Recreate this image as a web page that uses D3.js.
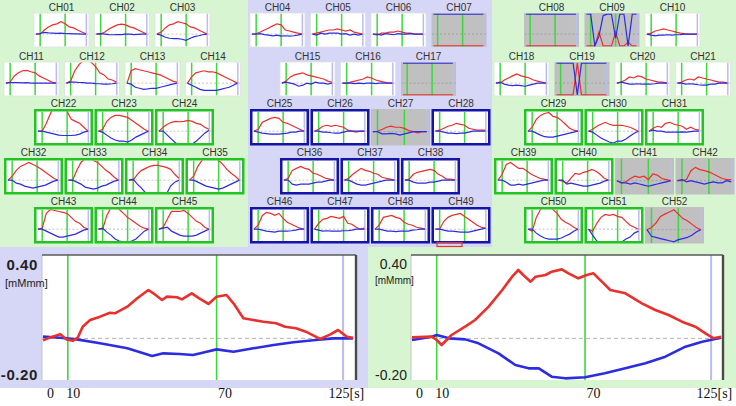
<!DOCTYPE html>
<html>
<head>
<meta charset="utf-8">
<script src="https://cdn.jsdelivr.net/npm/d3@7"></script>
<style>
  body { margin: 0; background: #fff; }
  svg { display: block; }
</style>
</head>
<body>
<div id="chart"></div>
<script>
// ---- data ----
const tSmall = [0, 10, 20, 30, 40, 50, 60, 70, 80, 90, 100, 110, 120];

// oxy-Hb (red) per channel CH01..CH52
const oxyHb = [
  [0,0,.02,.035,.045,.05,.06,.05,.035,.03,.02,.01,.002],
  [0,0,.01,.025,.035,.045,.048,.045,.035,.03,.02,.01,.002],
  [0,.01,.03,.045,.05,.06,.055,.05,.035,.03,.02,.01,0],
  [0,.002,.01,.02,.03,.04,.05,.045,.02,.015,.01,.005,0],
  [0,.005,.01,.015,.02,.02,.025,.02,.015,.02,.01,.005,0],
  [0,-.005,.005,.005,.01,.01,.015,.01,.005,.005,0,0,0],
  [-.057,-.057,-.057,-.057,-.057,-.057,-.057,-.057,-.057,-.057,-.057,-.057,-.057],
  [-.057,-.057,-.057,-.057,-.057,-.057,-.057,-.057,-.057,-.057,-.057,-.057,-.057],
  [-.057,-.057,-.057,.01,-.057,-.057,-.057,.01,-.057,-.057,-.04,-.057,-.057],
  [0,.005,.015,.02,.025,.02,.015,.01,.005,.002,0,0,0],
  [0,.005,.035,.05,.06,.062,.055,.05,.035,.025,.015,.005,0],
  [0,.01,.06,.09,.11,.11,.1,.08,.05,.04,.02,.015,.005],
  [0,.06,.07,.065,.06,.055,.05,.045,.04,.03,.02,.01,.005],
  [0,.03,.05,.055,.06,.055,.055,.05,.04,.03,.02,.01,0],
  [0,.01,.03,.04,.045,.05,.04,.035,.03,.025,.02,.01,.005],
  [0,0,.005,.01,.015,.02,.03,.025,.015,.01,.005,0,0],
  [-.057,-.057,-.057,-.057,-.057,-.057,-.057,-.057,-.057,-.057,-.057,-.057,-.057],
  [0,0,.015,.025,.035,.045,.035,.03,.025,.015,.01,.005,0],
  [-.057,-.057,-.057,-.057,-.057,.097,-.057,-.057,-.057,-.057,-.057,-.057,-.057],
  [0,.005,.015,.03,.025,.035,.03,.02,.015,.01,.005,.005,0],
  [0,.005,.015,.02,.015,.03,.025,.02,.015,.01,.005,.005,0],
  [0,0,.04,.09,.13,.13,.13,.1,.06,.05,.04,.02,0],
  [0,.01,.05,.07,.08,.08,.075,.07,.055,.04,.025,.01,0],
  [0,.02,.035,.045,.05,.048,.05,.055,.05,.04,.035,.02,.01],
  [0,.01,.045,.055,.065,.07,.065,.045,.04,.03,.02,.01,0],
  [0,.01,.025,.03,.025,.03,.025,.02,.005,0,-.005,0,0],
  [0,.002,.01,.02,.025,.02,.02,.015,.005,0,-.005,0,0],
  [0,.005,.015,.025,.03,.04,.035,.03,.015,.01,.005,.005,.005],
  [0,.02,.06,.08,.09,.095,.075,.07,.055,.035,.015,.005,0],
  [0,.01,.025,.035,.045,.035,.03,.03,.03,.025,.02,.01,0],
  [0,.015,.025,.02,.04,.045,.035,.03,.025,.01,.02,.01,.005],
  [0,.02,.05,.07,.08,.09,.08,.07,.055,.04,.025,.01,0],
  [0,0,.05,.09,.11,.12,.1,.09,.07,.05,.035,.015,0],
  [0,0,.03,.05,.06,.07,.075,.075,.07,.065,.055,.03,.01],
  [0,.02,.07,.1,.12,.13,.12,.1,.08,.055,.035,.02,0],
  [0,.01,.05,.06,.07,.06,.055,.035,.03,.02,.01,.005,0],
  [0,.01,.03,.045,.06,.05,.045,.035,.03,.015,.01,.005,0],
  [0,.005,.03,.04,.045,.05,.055,.05,.03,.02,.005,.005,0],
  [0,.03,.08,.09,.075,.06,.06,.045,.03,.02,.01,.005,0],
  [0,-.005,-.015,.01,.035,.03,.04,.045,.055,.045,.03,.01,0],
  [0,-.01,-.005,.01,.02,.015,.02,.005,.03,.025,.01,.005,0],
  [0,0,.005,.045,.06,.05,.045,.04,.03,.02,.01,.005,.005],
  [0,.005,.08,.1,.095,.09,.085,.08,.06,.04,.03,.01,0],
  [0,0,.07,.11,.12,.1,.08,.06,.045,.03,.015,.005,0],
  [0,.01,.05,.09,.09,.09,.095,.08,.06,.04,.03,.01,0],
  [0,.02,.07,.085,.08,.07,.08,.055,.035,.025,.015,.005,0],
  [0,.03,.05,.055,.065,.06,.055,.065,.03,.025,.01,0,.005],
  [0,.02,.06,.065,.07,.06,.055,.035,.025,.02,.01,.005,0],
  [0,0,.04,.06,.07,.075,.08,.065,.05,.035,.02,.01,.005],
  [0,-.01,.06,.1,.12,.12,.1,.08,.05,.035,.025,.01,0],
  [0,-.01,.03,.06,.075,.07,.075,.065,.06,.04,.02,.01,0],
  [0,.01,.03,.06,.07,.08,.09,.07,.05,.04,.025,.01,0]
];

// deoxy-Hb (blue) per channel CH01..CH52
const deoxyHb = [
  [0,.003,.008,.006,.005,.004,.005,.003,.002,.001,.001,0,0],
  [0,.002,0,-.002,-.003,-.002,-.002,0,0,-.002,-.001,0,0],
  [0,-.005,-.015,-.02,-.022,-.022,-.025,-.03,-.02,-.012,-.008,-.003,0],
  [0,0,.002,-.002,-.005,-.008,-.005,-.01,-.008,-.01,-.008,-.005,0],
  [0,-.005,.005,0,.005,.005,.005,0,.002,-.005,0,-.005,0],
  [0,0,-.005,.002,0,-.003,.002,0,0,.002,0,0,0],
  [.097,.097,.097,.097,.097,.097,.097,.097,.097,.097,.097,.097,.097],
  [.097,.097,.097,.097,.097,.097,.097,.097,.097,.097,.097,.097,.097],
  [.097,.097,-.057,-.01,.09,.097,.097,-.02,.097,.097,-.057,.097,.097],
  [0,-.005,-.008,-.005,-.005,-.003,-.005,-.003,-.002,0,0,0,0],
  [0,.002,.003,.002,.001,.002,0,0,0,0,0,0,0],
  [0,.005,.005,.003,.002,0,0,-.002,-.003,-.005,-.005,-.003,0],
  [0,-.005,-.02,-.025,-.03,-.028,-.025,-.025,-.02,-.015,-.01,-.005,0],
  [0,-.01,-.02,-.03,-.035,-.035,-.035,-.035,-.03,-.025,-.02,-.01,0],
  [0,.005,0,-.005,-.015,-.01,0,-.005,.005,0,0,-.005,0],
  [0,0,0,-.002,0,-.002,0,0,-.002,0,0,0,0],
  [.097,.097,.097,.097,.097,.097,.097,.097,.097,.097,.097,.097,.097],
  [0,.005,-.005,-.01,-.012,-.01,-.012,-.015,-.01,-.005,0,0,0],
  [.097,.097,.097,.097,.097,-.057,.097,.097,.097,.097,.097,.097,.097],
  [0,.005,0,-.005,-.005,-.003,-.005,-.005,-.005,-.003,0,0,0],
  [0,0,-.005,-.003,-.005,-.008,-.01,-.01,-.005,-.005,0,0,0],
  [0,0,-.005,-.01,-.015,-.02,-.022,-.022,-.022,-.02,-.015,-.005,0],
  [0,-.005,-.02,-.035,-.045,-.05,-.05,-.055,-.045,-.03,-.02,-.01,0],
  [0,0,-.02,-.04,-.06,-.065,-.065,-.07,-.065,-.05,-.03,-.01,.005],
  [0,-.005,-.01,-.012,-.015,-.015,-.015,-.012,-.01,-.005,-.005,0,0],
  [0,0,-.005,-.005,-.008,-.01,-.01,-.005,0,0,0,0,0],
  [0,0,-.01,-.01,-.008,-.01,-.015,-.01,-.005,0,0,0,0],
  [0,0,-.005,-.01,-.01,-.012,-.01,-.01,-.005,0,0,0,0],
  [0,0,-.01,-.02,-.028,-.03,-.03,-.025,-.02,-.015,-.01,-.005,0],
  [0,-.005,-.02,-.035,-.045,-.055,-.06,-.05,-.05,-.04,-.025,-.01,0],
  [0,.005,0,0,-.005,-.005,-.005,-.005,-.003,-.005,-.002,0,0],
  [0,0,-.015,-.02,-.03,-.035,-.04,-.035,-.03,-.025,-.015,-.005,0],
  [0,0,-.01,-.02,-.035,-.04,-.045,-.04,-.03,-.025,-.015,-.005,0],
  [0,.005,-.02,-.04,-.065,-.07,-.07,-.07,-.07,-.07,-.03,-.01,0],
  [0,0,-.01,-.02,-.03,-.035,-.04,-.045,-.04,-.03,-.02,-.01,0],
  [0,0,-.02,-.025,-.02,-.02,-.02,-.015,-.01,-.01,-.005,0,0],
  [0,0,-.01,-.02,-.025,-.025,-.02,-.015,-.01,-.005,0,0,0],
  [0,0,-.01,-.015,-.015,-.015,-.01,-.01,-.005,0,0,0,0],
  [0,0,-.01,-.025,-.025,-.02,-.025,-.02,-.015,-.01,-.005,0,0],
  [0,0,-.02,-.015,-.02,-.025,-.03,-.03,-.025,-.02,-.015,-.005,0],
  [0,-.01,-.01,-.015,-.01,-.015,-.02,-.025,-.02,-.015,-.01,-.005,0],
  [0,.005,-.005,0,-.005,-.01,-.015,-.01,-.005,-.01,-.01,0,-.005],
  [0,0,-.01,-.02,-.03,-.04,-.04,-.035,-.03,-.025,-.015,-.005,0],
  [0,.005,-.015,-.03,-.05,-.06,-.065,-.065,-.06,-.05,-.03,-.01,0],
  [0,.005,.01,-.01,-.02,-.03,-.035,-.035,-.035,-.03,-.02,-.01,0],
  [0,0,-.005,-.01,-.012,-.015,-.01,-.01,-.01,-.008,-.005,0,0],
  [0,-.005,-.01,-.008,-.01,-.01,-.01,-.008,-.008,-.005,0,0,0],
  [0,0,-.005,-.01,-.01,-.012,-.01,-.01,-.01,-.005,-.003,0,0],
  [0,0,-.005,-.01,-.01,-.012,-.015,-.015,-.015,-.01,-.005,0,.005],
  [0,0,-.02,-.035,-.045,-.05,-.05,-.05,-.045,-.035,-.025,-.01,0],
  [0,-.03,-.06,-.07,-.07,-.07,-.07,-.07,-.065,-.05,-.04,-.02,-.01],
  [0,-.03,-.035,-.04,-.045,-.05,-.055,-.045,-.04,-.035,-.025,-.01,0]
];

const disabledCh = [7, 8, 9, 17, 19, 27, 41, 42, 52];
const markTimes = [10, 70];
const endMark = 121;

// channel order in each row: [left block, middle block, right block]
const rowChannels = [
  [[1, 2, 3], [4, 5, 6, 7], [8, 9, 10]],
  [[11, 12, 13, 14], [15, 16, 17], [18, 19, 20, 21]],
  [[22, 23, 24], [25, 26, 27, 28], [29, 30, 31]],
  [[32, 33, 34, 35], [36, 37, 38], [39, 40, 41, 42]],
  [[43, 44, 45], [46, 47, 48, 49], [50, 51, 52]]
];

// large averaged plots
const leftOxyT = [0,2,7,9.5,12,14,16,19,23,27,29,34,38,42.5,44.5,48,50,54,56,60,63,66.7,70,74,76.8,80.8,84.8,88.9,94,97.6,102,106,111.7,115.7,119,122.5,125];
const leftOxy = [-0.01,0,0.02,-0.005,-0.012,0.003,0.056,0.088,0.104,0.123,0.12,0.152,0.192,0.232,0.216,0.184,0.2,0.197,0.187,0.216,0.192,0.165,0.2,0.208,0.168,0.096,0.088,0.08,0.072,0.056,0.048,0.032,-0.003,0.018,0.04,0.008,0.003];
const leftDeoxyT = [0,6.9,13.6,23,34,44,48.5,55,60.5,66,70,76.8,84.8,93,101,110,117,125];
const leftDeoxy = [0.008,0.003,-0.005,-0.024,-0.048,-0.085,-0.072,-0.075,-0.08,-0.064,-0.053,-0.064,-0.048,-0.032,-0.019,-0.008,0,0];

const rightOxyT = [0,8,10,12,14,16,21.5,25.5,31,36.5,40.5,43,45,48,50,54,56.5,60.6,63.3,67.3,70.7,73.4,76.8,80.2,86.3,93,98.4,103.8,109.2,114.6,118.7,122,125];
const rightOxy = [0.005,0.008,-0.008,-0.032,-0.008,0.016,0.056,0.088,0.152,0.232,0.296,0.328,0.304,0.272,0.296,0.304,0.32,0.331,0.312,0.288,0.304,0.312,0.272,0.232,0.216,0.168,0.136,0.112,0.08,0.056,0.024,0,0.008];
const rightDeoxyT = [0,8,10,15,21.5,26.9,35,41.8,47.2,51.3,56.5,62,70,78,86.3,94.4,102.5,110.6,117.4,125];
const rightDeoxy = [-0.008,0.008,0.016,0,-0.005,-0.024,-0.072,-0.128,-0.144,-0.144,-0.184,-0.192,-0.187,-0.168,-0.144,-0.12,-0.088,-0.04,-0.016,0.003];

const xTickVals = [0, 10, 70, 125];
const xTickLabels = ["0", "10", "70", "125[s]"];
const yTickVals = [0.4, -0.2];
const yTickLabels = ["0.40", "-0.20"];
const unitLabel = "[mMmm]";

// ---- drawing ----
const W = 736, H = 406;
const GREEN = "#d6f5d0", LAV = "#d6d6f6";
const RED = "#e8302c", BLUE = "#2c2ce0", MARK = "#3cd83c", PURP = "#bcbcf0";
const SANS = "'Liberation Sans', Arial, sans-serif";
const SERIF = "'Liberation Serif', 'Times New Roman', serif";

const svg = d3.select("#chart").append("svg")
    .attr("width", W)
    .attr("height", H);

svg.append("rect").attr("x", 0).attr("y", 0).attr("width", 248).attr("height", 247).attr("fill", GREEN);
svg.append("rect").attr("x", 248).attr("y", 0).attr("width", 244).attr("height", 247).attr("fill", LAV);
svg.append("rect").attr("x", 492).attr("y", 0).attr("width", 244).attr("height", 247).attr("fill", GREEN);
svg.append("rect").attr("x", 0).attr("y", 247).attr("width", 368).attr("height", 141).attr("fill", LAV);
svg.append("rect").attr("x", 368).attr("y", 247).attr("width", 368).attr("height", 141).attr("fill", GREEN);

const defs = svg.append("defs");

function smallPanel(ch, x, y, w, h, frame) {
    const i = ch - 1;
    const off = disabledCh.includes(ch);
    const framed = frame && !off;
    const pad = framed ? 2.5 : 0.5;
    const g = svg.append("g");

    if (framed) {
        g.append("rect")
            .attr("x", x + 1.25).attr("y", y + 1.25)
            .attr("width", w - 2.5).attr("height", h - 2.5)
            .attr("fill", "#fff")
            .attr("stroke", frame)
            .attr("stroke-width", 2.5);
    } else {
        g.append("rect")
            .attr("x", x).attr("y", y)
            .attr("width", w).attr("height", h)
            .attr("fill", off ? "#c0c0c0" : "#fff")
            .attr("stroke", off ? "none" : "#e2e2e2")
            .attr("stroke-width", 0.8);
    }

    const x0 = x + pad, x1 = x + w - pad, y0 = y + pad, y1 = y + h - pad;
    const id = "clip" + ch;
    defs.append("clipPath").attr("id", id)
        .append("rect").attr("x", x0).attr("y", y0).attr("width", x1 - x0).attr("height", y1 - y0);

    const xs = d3.scaleLinear().domain([0, 125]).range([x0 + 1.5, x1 - 0.5]);
    const ys = d3.scaleLinear().domain([-0.06, 0.1]).range([y1, y0]);
    const inner = g.append("g").attr("clip-path", `url(#${id})`);

    inner.append("line")
        .attr("x1", x0).attr("x2", x1)
        .attr("y1", ys(0)).attr("y2", ys(0))
        .attr("stroke", off ? "#999" : "#b8b8b8")
        .attr("stroke-width", 0.8)
        .attr("stroke-dasharray", "2,2");

    markTimes.forEach(t => {
        inner.append("line")
            .attr("x1", xs(t)).attr("x2", xs(t))
            .attr("y1", y0).attr("y2", y1)
            .attr("stroke", MARK).attr("stroke-width", 1.5);
    });
    inner.append("line")
        .attr("x1", xs(endMark)).attr("x2", xs(endMark))
        .attr("y1", y0).attr("y2", y1)
        .attr("stroke", PURP).attr("stroke-width", 1.5);

    const line = d3.line().x((d, k) => xs(tSmall[k])).y(d => ys(d));
    inner.append("path").attr("d", line(oxyHb[i]))
        .attr("fill", "none").attr("stroke", RED).attr("stroke-width", 1.2);
    inner.append("path").attr("d", line(deoxyHb[i]))
        .attr("fill", "none").attr("stroke", BLUE).attr("stroke-width", 1.2);

    svg.append("text")
        .attr("x", x + w / 2)
        .attr("y", y - 2)
        .attr("text-anchor", "middle")
        .attr("font-family", SANS)
        .attr("font-size", 10)
        .attr("fill", "#333")
        .text("CH" + String(ch).padStart(2, "0"));
}

const rowTop = [13, 62, 109, 158, 207];
const rowHeight = [34, 34, 36.5, 36.5, 36.5];
const blockX = [4, 250, 494];
const step = 60.5;

rowChannels.forEach((blocks, r) => {
    const framedRow = r >= 2;
    blocks.forEach((chs, b) => {
        const offset = chs.length === 3 ? 30 : 0;
        const frame = framedRow ? (b === 1 ? "#1414a8" : "#22c322") : null;
        const w = framedRow ? 59 : 55;
        chs.forEach((ch, k) => {
            smallPanel(ch, blockX[b] + offset + k * step, rowTop[r], w, rowHeight[r], frame);
        });
    });
});

// red marker under CH49
svg.append("rect").attr("x", 437).attr("y", 242.5).attr("width", 25).attr("height", 4)
    .attr("fill", "none").attr("stroke", "#e83030").attr("stroke-width", 1.2);

function bigChart(o) {
    const top = 255, bottom = 380;
    const xs = d3.scaleLinear().domain([0, 125]).range(o.xr);
    const ys = d3.scaleLinear().domain([-0.2, 0.4]).range([bottom, top]);

    svg.append("rect")
        .attr("x", o.px0).attr("y", top)
        .attr("width", o.px1 - o.px0).attr("height", bottom - top)
        .attr("fill", "#fff");
    svg.append("line").attr("x1", o.px0).attr("x2", o.px0).attr("y1", top).attr("y2", bottom)
        .attr("stroke", "#c4c4c4").attr("stroke-width", 1);

    svg.append("line")
        .attr("x1", o.px0).attr("x2", o.px1)
        .attr("y1", ys(0)).attr("y2", ys(0))
        .attr("stroke", "#b4b4b4").attr("stroke-width", 1)
        .attr("stroke-dasharray", "4,3");

    markTimes.forEach(t => {
        svg.append("line")
            .attr("x1", xs(t)).attr("x2", xs(t))
            .attr("y1", top).attr("y2", bottom)
            .attr("stroke", MARK).attr("stroke-width", 1.6);
    });
    svg.append("line")
        .attr("x1", xs(endMark)).attr("x2", xs(endMark))
        .attr("y1", top).attr("y2", bottom)
        .attr("stroke", PURP).attr("stroke-width", 2);

    const oxyLine = d3.line().x((d, k) => xs(o.oxyT[k])).y(d => ys(d));
    const deoxyLine = d3.line().x((d, k) => xs(o.deoxyT[k])).y(d => ys(d));
    svg.append("path").attr("d", deoxyLine(o.deoxy))
        .attr("fill", "none").attr("stroke", BLUE).attr("stroke-width", 2.6)
        .attr("stroke-linejoin", "round");
    svg.append("path").attr("d", oxyLine(o.oxy))
        .attr("fill", "none").attr("stroke", RED).attr("stroke-width", 2.6)
        .attr("stroke-linejoin", "round");

    // frame: top and right edges
    svg.append("line").attr("x1", o.px0).attr("x2", o.px1).attr("y1", top).attr("y2", top)
        .attr("stroke", "#5a5a5a").attr("stroke-width", 1.6);
    svg.append("line").attr("x1", o.px1).attr("x2", o.px1).attr("y1", top).attr("y2", bottom)
        .attr("stroke", "#4a4a4a").attr("stroke-width", 2.4);

    // y axis labels
    const yAxis = svg.append("g")
        .attr("transform", `translate(${o.px0 - 4},0)`)
        .call(d3.axisLeft(ys).tickValues(yTickVals).tickFormat((d, k) => yTickLabels[k]).tickSize(0).tickPadding(0));
    yAxis.select(".domain").remove();
    yAxis.selectAll("text")
        .attr("font-family", SANS)
        .attr("font-size", o.ySize)
        .attr("font-weight", o.boldY ? "bold" : "normal")
        .attr("letter-spacing", o.boldY ? 0.6 : 0)
        .attr("fill", "#222")
        .attr("dy", (d, k) => k === 0 ? "0.95em" : "-0.05em");

    svg.append("text")
        .attr("x", o.unitX).attr("y", o.unitY)
        .attr("font-family", SANS)
        .attr("font-size", o.unitSize)
        .attr("fill", "#222")
        .text(unitLabel);

    // x axis labels
    const xAxis = svg.append("g")
        .attr("transform", `translate(0,${bottom})`)
        .call(d3.axisBottom(xs).tickValues(xTickVals).tickFormat((d, k) => xTickLabels[k]).tickSize(0));
    xAxis.select(".domain").remove();
    xAxis.selectAll("text")
        .attr("font-family", SERIF)
        .attr("font-size", 14)
        .attr("fill", "#111")
        .attr("y", 18)
        .attr("dy", 0)
        .attr("text-anchor", (d, k) => k === 0 ? "middle" : "start")
        .attr("dx", (d, k) => [7, -2, 1, -25][k]);
}

bigChart({
    px0: 42, px1: 356, xr: [43, 353],
    oxyT: leftOxyT, oxy: leftOxy, deoxyT: leftDeoxyT, deoxy: leftDeoxy,
    boldY: true, ySize: 15, unitX: 5, unitY: 287, unitSize: 11
});

bigChart({
    px0: 411, px1: 723, xr: [412, 721],
    oxyT: rightOxyT, oxy: rightOxy, deoxyT: rightDeoxyT, deoxy: rightDeoxy,
    boldY: false, ySize: 14, unitX: 375, unitY: 284, unitSize: 10
});
</script>
</body>
</html>
